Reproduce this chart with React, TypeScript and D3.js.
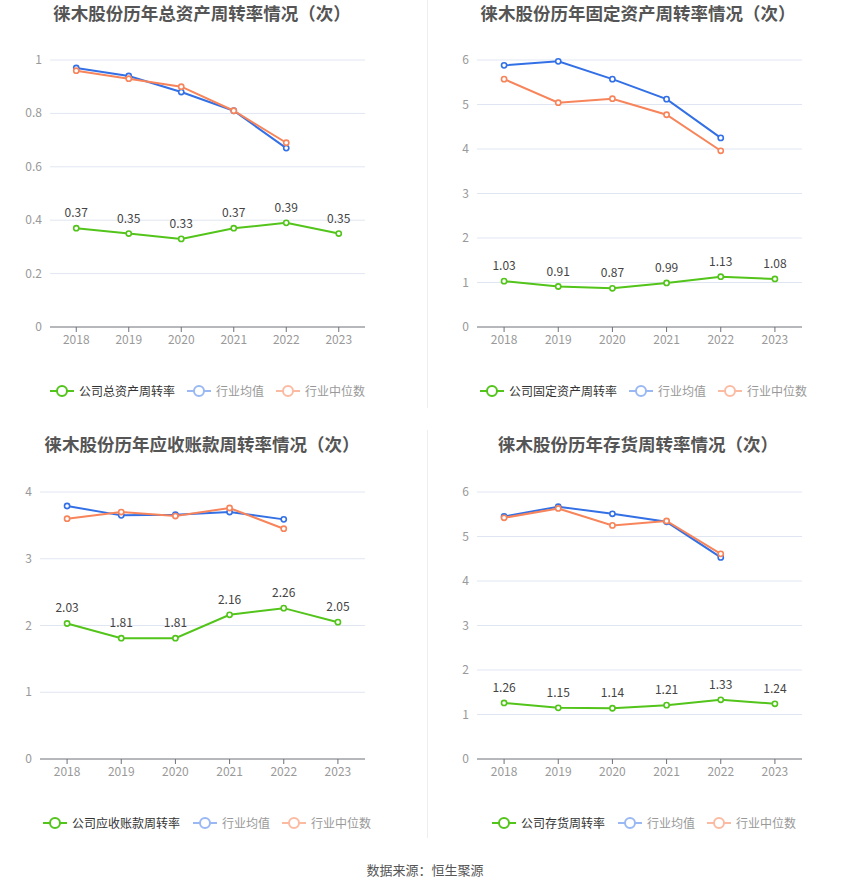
import React from "react";
import * as d3 from "d3";

const years = ["2018", "2019", "2020", "2021", "2022", "2023"];

// 总资产周转率
const totalCompany = [0.37, 0.35, 0.33, 0.37, 0.39, 0.35];
const totalAvg = [0.97, 0.94, 0.88, 0.81, 0.67];
const totalMedian = [0.96, 0.93, 0.9, 0.81, 0.69];

// 固定资产周转率
const fixedCompany = [1.03, 0.91, 0.87, 0.99, 1.13, 1.08];
const fixedAvg = [5.88, 5.97, 5.57, 5.12, 4.25];
const fixedMedian = [5.57, 5.04, 5.13, 4.77, 3.96];

// 应收账款周转率
const arCompany = [2.03, 1.81, 1.81, 2.16, 2.26, 2.05];
const arAvg = [3.79, 3.65, 3.66, 3.7, 3.59];
const arMedian = [3.6, 3.7, 3.64, 3.76, 3.45];

// 存货周转率
const invCompany = [1.26, 1.15, 1.14, 1.21, 1.33, 1.24];
const invAvg = [5.45, 5.67, 5.51, 5.33, 4.53];
const invMedian = [5.42, 5.63, 5.25, 5.35, 4.61];

const GREEN = "#52c41a";
const BLUE = "#3370e6";
const ORANGE = "#f7845a";
const FONT = "'Noto Sans CJK SC', 'Noto Sans', sans-serif";

const panels = [
  {
    title: "徕木股份历年总资产周转率情况（次）",
    name: "公司总资产周转率",
    company: totalCompany, avg: totalAvg, median: totalMedian,
    yMax: 1, ticks: [0, 0.2, 0.4, 0.6, 0.8, 1],
    x0: 50, x1: 365, top: 60, bottom: 327, titleX: 202, titleY: 20, legendY: 391,
    legendX: [50, 187, 276],
  },
  {
    title: "徕木股份历年固定资产周转率情况（次）",
    name: "公司固定资产周转率",
    company: fixedCompany, avg: fixedAvg, median: fixedMedian,
    yMax: 6, ticks: [0, 1, 2, 3, 4, 5, 6],
    x0: 477, x1: 802, top: 60, bottom: 327, titleX: 638, titleY: 20, legendY: 391,
    legendX: [480, 629, 718],
  },
  {
    title: "徕木股份历年应收账款周转率情况（次）",
    name: "公司应收账款周转率",
    company: arCompany, avg: arAvg, median: arMedian,
    yMax: 4, ticks: [0, 1, 2, 3, 4],
    x0: 40, x1: 365, top: 492, bottom: 759, titleX: 202, titleY: 451, legendY: 823,
    legendX: [43, 193, 282],
  },
  {
    title: "徕木股份历年存货周转率情况（次）",
    name: "公司存货周转率",
    company: invCompany, avg: invAvg, median: invMedian,
    yMax: 6, ticks: [0, 1, 2, 3, 4, 5, 6],
    x0: 477, x1: 802, top: 492, bottom: 759, titleX: 638, titleY: 451, legendY: 823,
    legendX: [492, 618, 707],
  },
];

const Series = ({ values, x, y, color, labels }) => {
  const line = d3
    .line<number>()
    .x((d, i) => x(years[i]))
    .y((d) => y(d));
  return (
    <g>
      <path d={line(values) || ""} fill="none" stroke={color} strokeWidth={2} />
      {values.map((v, i) => (
        <circle key={i} cx={x(years[i])} cy={y(v)} r={2.6} fill="#fff" stroke={color} strokeWidth={1.6} />
      ))}
      {labels &&
        values.map((v, i) => (
          <text key={"l" + i} x={x(years[i])} y={y(v) - 11} textAnchor="middle" fontSize={12} fill="#444">
            {v.toFixed(2)}
          </text>
        ))}
    </g>
  );
};

const LegendItem = ({ x, y, color, label, textColor }) => (
  <g>
    <line x1={x} x2={x + 24} y1={y} y2={y} stroke={color} strokeWidth={2} />
    <circle cx={x + 12} cy={y} r={5} fill="#fff" stroke={color} strokeWidth={2} />
    <text x={x + 29} y={y + 4.5} fontSize={12} fill={textColor}>
      {label}
    </text>
  </g>
);

const Panel = ({ p }) => {
  const x = d3
    .scalePoint<string>()
    .domain(years)
    .range([p.x0, p.x1])
    .padding(0.5);
  const y = d3.scaleLinear().domain([0, p.yMax]).range([p.bottom, p.top]);
  return (
    <g>
      <text x={p.titleX} y={p.titleY} textAnchor="middle" fontSize={17.5} fontWeight="bold" fill="#555">
        {p.title}
      </text>
      {p.ticks.map((t) => (
        <g key={t}>
          {t > 0 && <line x1={p.x0} x2={p.x1} y1={y(t)} y2={y(t)} stroke="#e0e6f1" strokeWidth={1} />}
          <text x={p.x0 - 8} y={y(t) + 4} textAnchor="end" fontSize={12} fill="#999">
            {t}
          </text>
        </g>
      ))}
      <line x1={p.x0} x2={p.x1} y1={p.bottom} y2={p.bottom} stroke="#6e7079" strokeWidth={1} />
      {years.map((yr) => (
        <g key={yr}>
          <line x1={x(yr)} x2={x(yr)} y1={p.bottom} y2={p.bottom + 5} stroke="#6e7079" strokeWidth={1} />
          <text x={x(yr)} y={p.bottom + 17} textAnchor="middle" fontSize={12} fill="#999">
            {yr}
          </text>
        </g>
      ))}
      <Series values={p.avg} x={x} y={y} color={BLUE} labels={false} />
      <Series values={p.median} x={x} y={y} color={ORANGE} labels={false} />
      <Series values={p.company} x={x} y={y} color={GREEN} labels={true} />
      <LegendItem x={p.legendX[0]} y={p.legendY} color={GREEN} label={p.name} textColor="#333" />
      <LegendItem x={p.legendX[1]} y={p.legendY} color="#9ab8f3" label="行业均值" textColor="#999" />
      <LegendItem x={p.legendX[2]} y={p.legendY} color="#fbbba3" label="行业中位数" textColor="#999" />
    </g>
  );
};

export default function App() {
  return (
    <div style={{ position: "absolute", left: 0, top: 0 }}>
      <svg width={850} height={891} style={{ display: "block", fontFamily: FONT }}>
        <rect width={850} height={891} fill="#fff" />
        <line x1={427.5} x2={427.5} y1={0} y2={408} stroke="#eee" strokeWidth={1} />
        <line x1={427.5} x2={427.5} y1={430} y2={838} stroke="#eee" strokeWidth={1} />
        {panels.map((p, i) => (
          <Panel key={i} p={p} />
        ))}
        <text x={425} y={875} textAnchor="middle" fontSize={13} fill="#555">
          数据来源：恒生聚源
        </text>
      </svg>
    </div>
  );
}
